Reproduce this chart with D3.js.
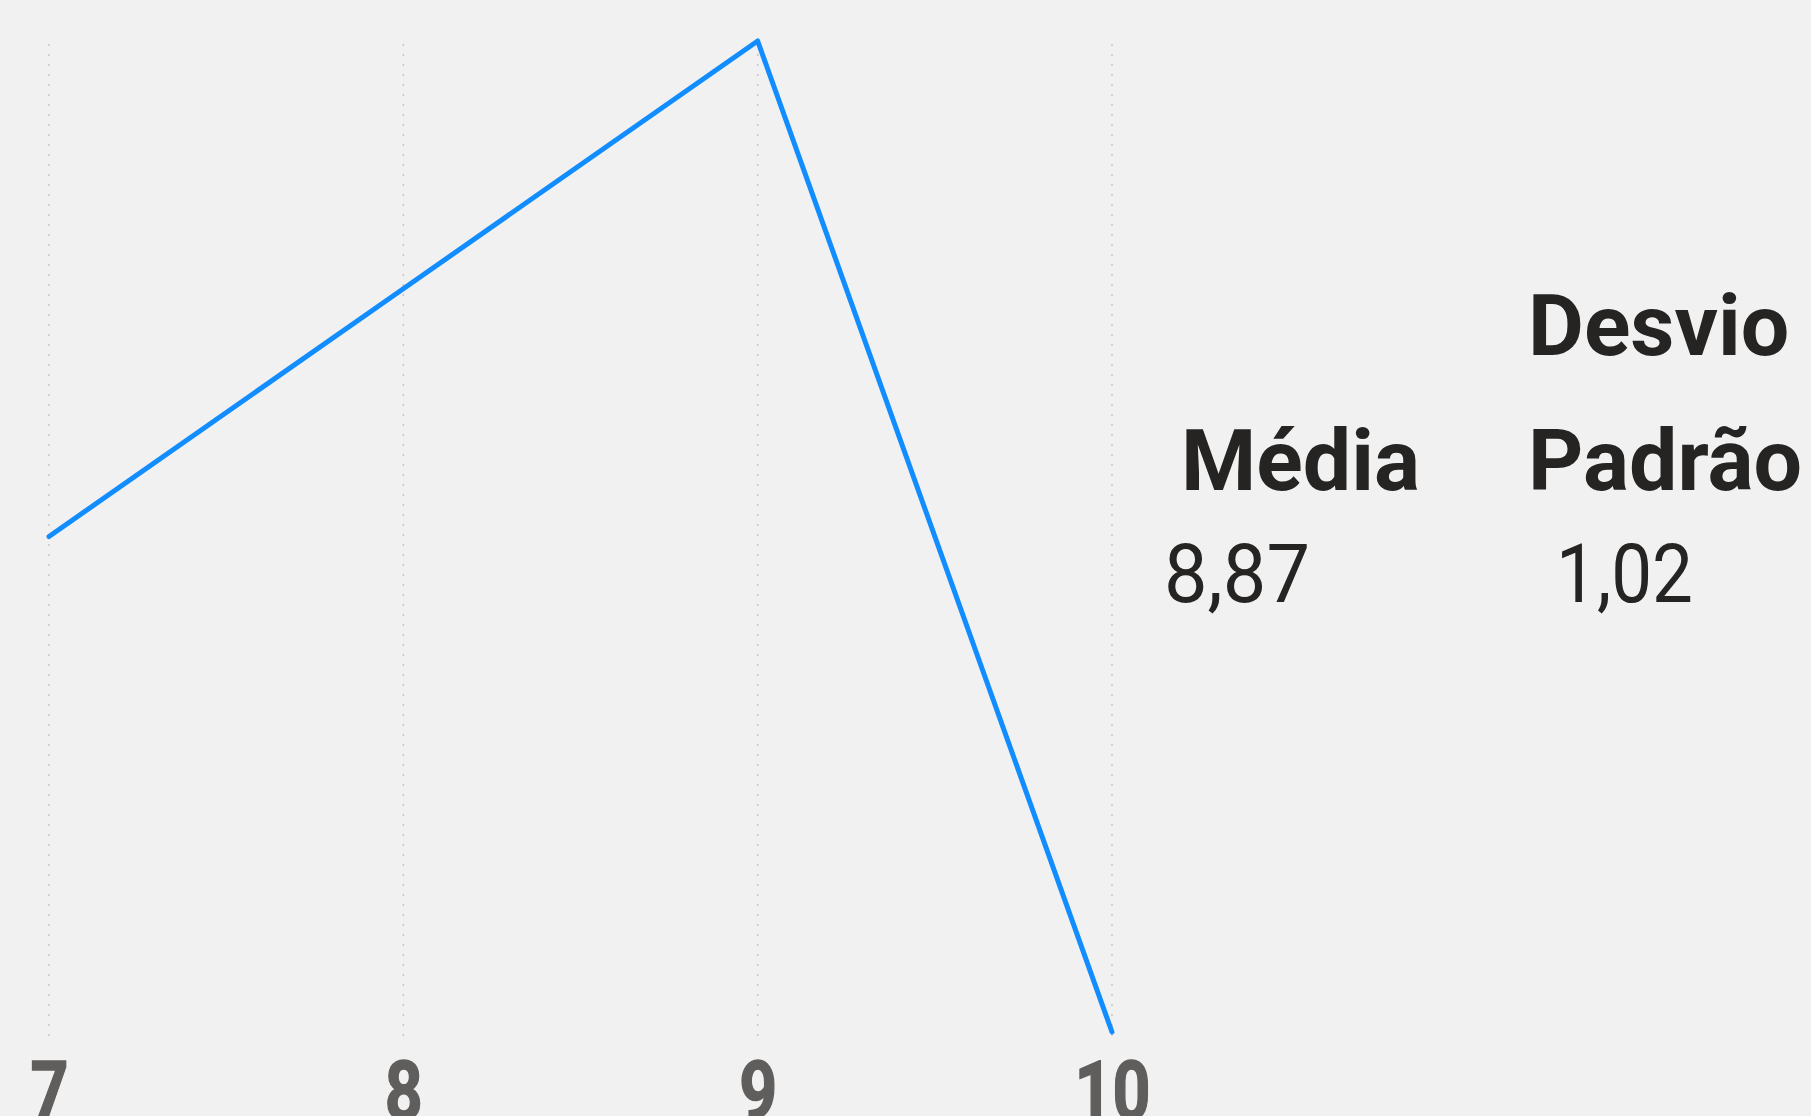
<!DOCTYPE html>
<html>
<head>
<meta charset="utf-8">
<script src="https://cdn.jsdelivr.net/npm/d3@7"></script>
<style>
html,body{margin:0;padding:0;background:#F1F1F1;overflow:hidden;}
svg{display:block;}
</style>
</head>
<body>
<svg id="chart" width="1811" height="1116"></svg>
<script>
const categories = [7, 8, 9, 10];
const values = [3, 4, 5, 1];
const tickLabels = ["7", "8", "9", "10"];
const statHeaders = [["Média"], ["Desvio", "Padrão"]];
const statValues = ["8,87", "1,02"];

const W = 1811, H = 1116;
const svg = d3.select("#chart");
svg.append("rect").attr("width", W).attr("height", H).attr("fill", "#F1F1F1");

const x = d3.scaleLinear().domain([7, 10]).range([49, 1112]);
const y = d3.scaleLinear().domain([1, 5]).range([1032, 41]);

// dotted vertical gridlines
svg.append("g").selectAll("line").data(categories).join("line")
  .attr("x1", d => x(d)).attr("x2", d => x(d))
  .attr("y1", 44).attr("y2", 1036)
  .attr("stroke", "#C8C6C4").attr("stroke-width", 1.5)
  .attr("stroke-dasharray", "2,8");

// x axis labels
const xAxis = d3.axisBottom(x).tickValues(categories).tickFormat((d, i) => tickLabels[i]).tickSize(0).tickPadding(0);
const gx = svg.append("g").attr("transform", "translate(0,1060)").call(xAxis);
gx.select(".domain").remove();
gx.selectAll("text")
  .attr("dy", null).attr("y", 59)
  .attr("fill", "#605E5C")
  .attr("textLength", (d, i) => tickLabels[i].length * 38)
  .attr("lengthAdjust", "spacingAndGlyphs")
  .attr("stroke", "#605E5C").attr("stroke-width", 1.5)
  .style("font-family", "Roboto, sans-serif")
  .style("font-weight", "bold")
  .style("font-size", "82px");

// line
const line = d3.line().x((d, i) => x(categories[i])).y(d => y(d));
svg.append("path").datum(values)
  .attr("d", line)
  .attr("fill", "none")
  .attr("stroke", "#118DFF")
  .attr("stroke-width", 5)
  .attr("stroke-linejoin", "round")
  .attr("stroke-linecap", "round");

// stats table
const headStyle = sel => sel.attr("fill", "#252423")
  .style("font-family", "Roboto, sans-serif").style("font-weight", "bold").style("font-size", "86px");
svg.append("text").attr("x", 1181).attr("y", 490).text(statHeaders[0][0]).call(headStyle);
svg.append("text").attr("x", 1528).attr("y", 355).text(statHeaders[1][0]).call(headStyle);
svg.append("text").attr("x", 1528).attr("y", 490).text(statHeaders[1][1]).call(headStyle);

const valStyle = sel => sel.attr("fill", "#252423")
  .attr("lengthAdjust", "spacingAndGlyphs")
  .style("font-family", "Roboto, sans-serif").style("font-weight", "normal").style("font-size", "82px");
svg.append("text").attr("x", 1164).attr("y", 602).attr("textLength", 146).text(statValues[0]).call(valStyle);
svg.append("text").attr("x", 1556).attr("y", 602).attr("textLength", 137).text(statValues[1]).call(valStyle);
</script>
</body>
</html>
